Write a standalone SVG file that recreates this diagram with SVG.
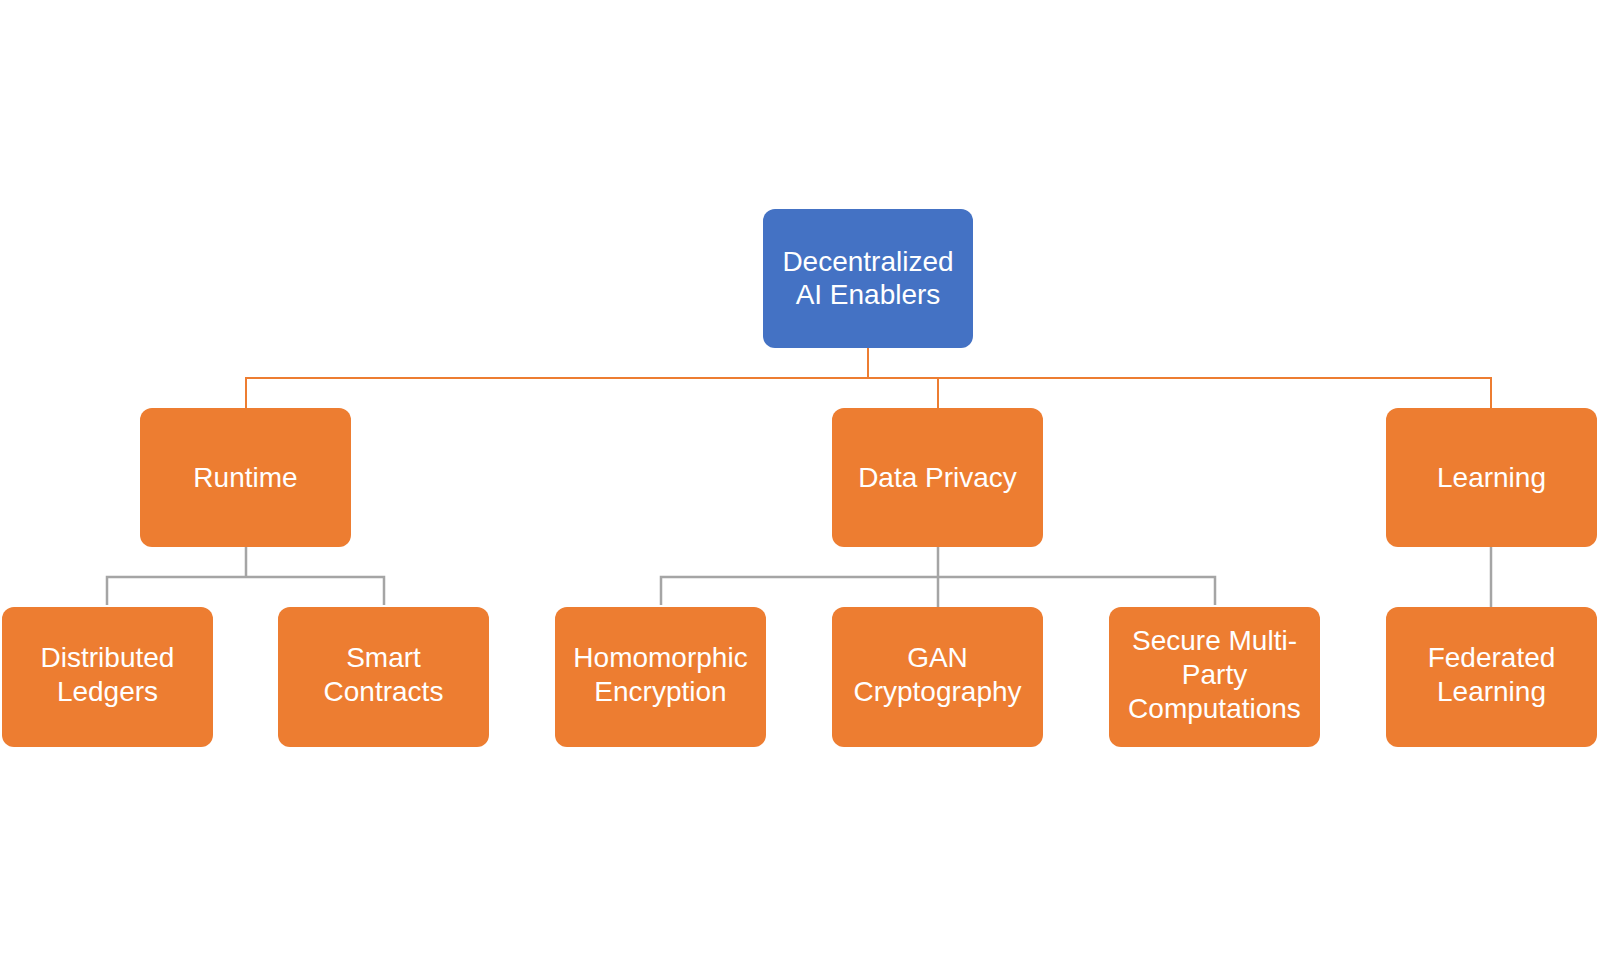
<svg xmlns="http://www.w3.org/2000/svg" width="1599" height="956" viewBox="0 0 1599 956">
<style>
.box{fill:#ED7D31}
.root{fill:#4472C4}
.t{font-family:"Liberation Sans",Arial,sans-serif;font-size:28px;fill:#FFFFFF;text-anchor:middle}
.c1{fill:none;stroke:#ED7D31;stroke-width:2}
.c2{fill:none;stroke:#A5A5A5;stroke-width:2.5}
</style>
<rect width="1599" height="956" fill="#FFFFFF"/>
<g id="connectors">
<path class="c1" d="M868,348 V378 M246,408 V378 H1491 V408 M938,378 V408"/>
<path class="c2" d="M246,547 V577 M107,605 V577 H384 V605"/>
<path class="c2" d="M938,547 V607 M661,605 V577 H1215 V605"/>
<path class="c2" d="M1491,547 V607"/>
</g>
<g id="root">
<rect class="root" x="763" y="209" width="210" height="139" rx="12"/>
<text class="t" x="868" y="271">Decentralized</text>
<text class="t" x="868" y="304">AI Enablers</text>
</g>
<g id="runtime">
<rect class="box" x="140" y="408" width="211" height="139" rx="12"/>
<text class="t" x="245.5" y="487">Runtime</text>
</g>
<g id="data-privacy">
<rect class="box" x="832" y="408" width="211" height="139" rx="12"/>
<text class="t" x="937.5" y="487">Data Privacy</text>
</g>
<g id="learning">
<rect class="box" x="1386" y="408" width="211" height="139" rx="12"/>
<text class="t" x="1491.5" y="487">Learning</text>
</g>
<g id="distributed-ledgers">
<rect class="box" x="2" y="607" width="211" height="140" rx="12"/>
<text class="t" x="107.5" y="667">Distributed</text>
<text class="t" x="107.5" y="701">Ledgers</text>
</g>
<g id="smart-contracts">
<rect class="box" x="278" y="607" width="211" height="140" rx="12"/>
<text class="t" x="383.5" y="667">Smart</text>
<text class="t" x="383.5" y="701">Contracts</text>
</g>
<g id="homomorphic-encryption">
<rect class="box" x="555" y="607" width="211" height="140" rx="12"/>
<text class="t" x="660.5" y="667">Homomorphic</text>
<text class="t" x="660.5" y="701">Encryption</text>
</g>
<g id="gan-cryptography">
<rect class="box" x="832" y="607" width="211" height="140" rx="12"/>
<text class="t" x="937.5" y="667">GAN</text>
<text class="t" x="937.5" y="701">Cryptography</text>
</g>
<g id="secure-mpc">
<rect class="box" x="1109" y="607" width="211" height="140" rx="12"/>
<text class="t" x="1214.5" y="650">Secure Multi-</text>
<text class="t" x="1214.5" y="684">Party</text>
<text class="t" x="1214.5" y="718">Computations</text>
</g>
<g id="federated-learning">
<rect class="box" x="1386" y="607" width="211" height="140" rx="12"/>
<text class="t" x="1491.5" y="667">Federated</text>
<text class="t" x="1491.5" y="701">Learning</text>
</g>
</svg>
